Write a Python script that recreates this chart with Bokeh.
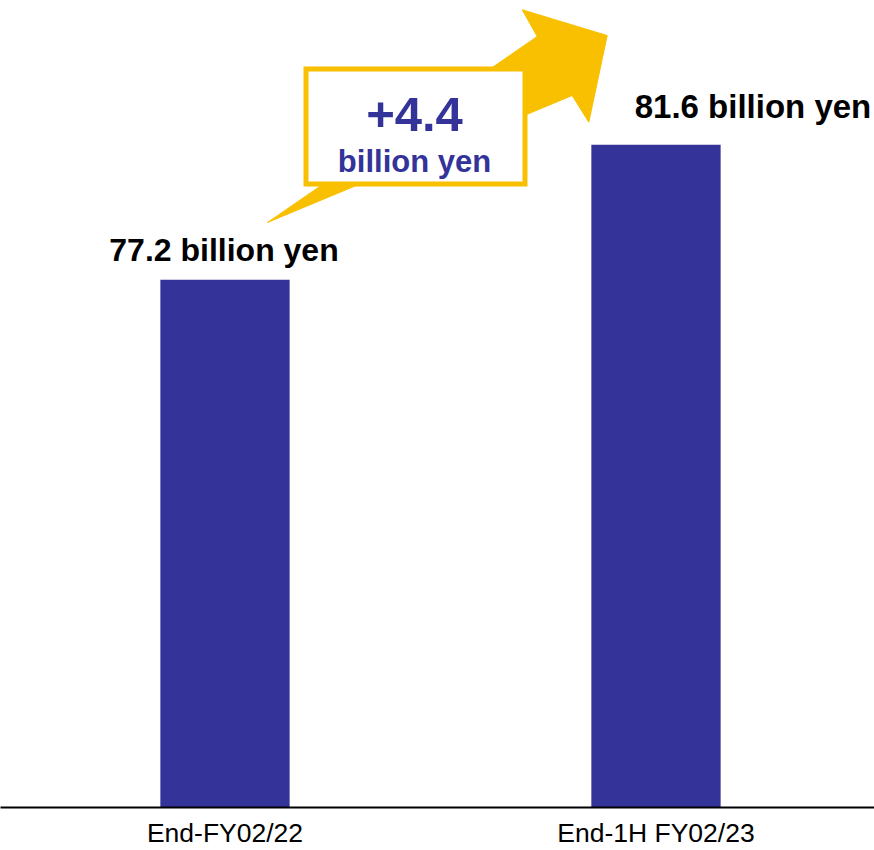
from bokeh.plotting import figure
from bokeh.models import ColumnDataSource, FixedTicker
from bokeh.core.properties import value
from bokeh.embed import file_html
from bokeh.resources import INLINE

# ---- data ----
categories = ["End-FY02/22", "End-1H FY02/23"]
values = [77.2, 81.6]
value_labels = ["77.2 billion yen", "81.6 billion yen"]
change_label = "+4.4"
change_unit = "billion yen"

# ---- layout constants ----
W, H = 874, 850
BORDER_BOTTOM = 43
FRAME_H = H - BORDER_BOTTOM
X_START, X_END = -0.5209, 1.5070
Y_START, Y_END = 60.0, 86.30
BASE_FIX = -13  # alphabetic baseline correction (px)

BAR = "#333399"
GOLD = "#F8C000"
FONT = value("Liberation Sans")


def dx(px):
    return X_START + px / W * (X_END - X_START)


def dy(py):
    return Y_END - py / FRAME_H * (Y_END - Y_START)


p = figure(width=W, height=H, output_backend="svg", toolbar_location=None,
           x_range=(X_START, X_END), y_range=(Y_START, Y_END),
           min_border_left=0, min_border_right=0, min_border_top=0,
           min_border_bottom=BORDER_BOTTOM)
p.outline_line_color = None
p.grid.visible = False
p.yaxis.visible = False
p.background_fill_color = "white"
p.border_fill_color = "white"

xs = list(range(len(categories)))
src = ColumnDataSource(dict(x=xs, top=values, label=value_labels))

# bars
p.vbar(x="x", top="top", bottom=Y_START, width=0.3, source=src,
       fill_color=BAR, line_color=None)

# x axis
ax = p.xaxis[0]
ax.ticker = FixedTicker(ticks=xs)
ax.major_label_overrides = {i: c for i, c in zip(xs, categories)}
ax.major_tick_in = 0
ax.major_tick_out = 0
ax.minor_tick_in = 0
ax.minor_tick_out = 0
ax.axis_line_color = "black"
ax.axis_line_width = 2
ax.major_label_standoff = 10
ax.major_label_text_font = "Liberation Sans"
ax.major_label_text_font_size = "26.5px"
ax.major_label_text_color = "black"

# value labels above bars
p.text(x=[xs[0]], y=[values[0]], text=[value_labels[0]], text_font=FONT,
       text_font_size="32px", text_font_style="bold", text_color="black",
       text_align="center", text_baseline="alphabetic",
       y_offset=-17 + BASE_FIX, x_offset=-1)
p.text(x=[xs[1]], y=[values[1]], text=[value_labels[1]], text_font=FONT,
       text_font_size="33px", text_font_style="bold", text_color="black",
       text_align="center", text_baseline="alphabetic",
       y_offset=-25 + BASE_FIX, x_offset=97)

# rising arrow (decoration)
arrow_px = [(267, 222), (536.7, 36), (521.7, 9.3), (606.7, 35),
            (588.3, 121.7), (571.7, 95)]
p.patch([dx(a) for a, b in arrow_px], [dy(b) for a, b in arrow_px],
        fill_color=GOLD, line_color=GOLD, line_width=1)

# change box
p.quad(left=[dx(305.5)], right=[dx(524.5)], top=[dy(68.5)], bottom=[dy(183.5)],
       fill_color="white", line_color=GOLD, line_width=5, line_join="miter")
p.text(x=[dx(414)], y=[dy(127)], text=[change_label], text_font=FONT,
       text_font_size="49px", text_font_style="bold", text_color=BAR,
       text_align="center", text_baseline="alphabetic", y_offset=BASE_FIX)
p.text(x=[dx(414)], y=[dy(174)], text=[change_unit], text_font=FONT,
       text_font_size="31px", text_font_style="bold", text_color=BAR,
       text_align="center", text_baseline="alphabetic", y_offset=BASE_FIX)

open("out.html", "w").write(file_html(p, INLINE))
